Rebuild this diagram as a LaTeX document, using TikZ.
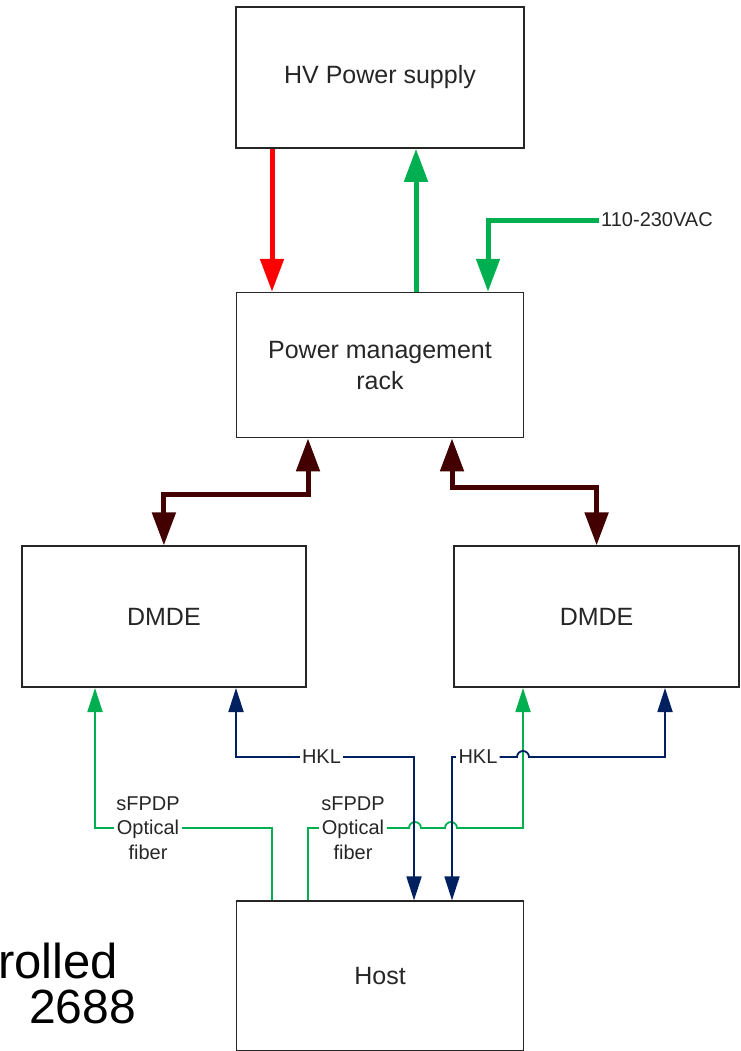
\documentclass[tikz,border=0pt]{standalone}
\usepackage{fontspec}
\setmainfont{Liberation Sans}
\usepackage{tikz}
\usetikzlibrary{arrows.meta,positioning,calc}
\definecolor{pgreen}{RGB}{0,176,80}
\definecolor{pred}{RGB}{255,0,0}
\definecolor{pbrown}{RGB}{66,0,0}
\definecolor{pblue}{RGB}{0,32,96}

\begin{document}
\begin{tikzpicture}[
  x=1pt,y=-1pt,
  font=\fontsize{25}{31}\selectfont,
  box/.style={draw=black!85,line width=1.6pt,minimum width=287pt,
              minimum height=143pt,inner sep=0pt,align=center,text=black!85},
  lbl/.style={font=\fontsize{20}{24.5}\selectfont,inner sep=2pt,align=center,text=black!85},
  big/.style={font=\fontsize{49}{49}\selectfont,inner sep=0pt,anchor=base west},
  pw/.style={line width=5pt,-{Triangle[length=33pt,width=23pt]}},
  bus/.style={line width=5pt,color=pbrown,
              {Triangle[length=33pt,width=23pt]}-{Triangle[length=33pt,width=23pt]}},
  sig/.style={line width=1.8pt},
  ar/.style={-{Triangle[length=24pt,width=15pt]}},
  ra/.style={{Triangle[length=24pt,width=15pt]}-}]

\useasboundingbox (0,0) rectangle (740,1051);

\node[box,minimum width=288pt,minimum height=141pt] (hv) at (380,77.5) {HV Power supply};
\node[box,minimum height=145pt,below=143pt of hv] (pmr) {Power management\\rack};
\node[box,minimum width=284pt,minimum height=141pt,below left=107pt and -71pt of pmr] (dmdeL) {DMDE};
\node[box,minimum width=285pt,minimum height=141pt,below right=107pt and -71pt of pmr] (dmdeR) {DMDE};
\node[box,minimum height=150pt,below=462pt of pmr] (host) {Host};

\node[lbl,anchor=west] (ac) at (599,220) {110-230VAC};
\node[lbl] (fibL) at (148,828) {sFPDP\\Optical\\fiber};
\node[lbl] (fibR) at (353,828) {sFPDP\\Optical\\fiber};
\node[lbl] (hklL) at (321.5,757) {HKL};
\node[lbl] (hklR) at (478,757) {HKL};

\node[big] (ctl) at (-2,978) {rolled};
\node[big,font=\fontsize{48}{48}\selectfont] (num) at (29,1023) {2688};

% power
\draw[pw,pred] (hv.south -| 272,0) -- (pmr.north -| 272,0);
\draw[pw,pgreen] (pmr.north -| 416,0) -- (hv.south -| 416,0);
\draw[pw,pgreen] (ac.west) -| (pmr.north -| 488,0);
\draw[bus] (pmr.south -| 308,0) -- ++(0,56) -| (dmdeL.north);
\draw[bus] (pmr.south -| 452,0) -- ++(0,49) -| (dmdeR.north);

% fibre links
\draw[sig,pgreen,ra] (dmdeL.south -| 95,0) |- (fibL.west);
\draw[sig,pgreen] (fibL.east) -| (host.north -| 272,0);
\draw[sig,pgreen] (host.north -| 308,0) |- (fibR.west);
\draw[sig,pgreen,ar] (fibR.east) -- (409,828) arc[start angle=180,end angle=0,radius=6pt]
  -- (445,828) arc[start angle=180,end angle=0,radius=6pt] -| (dmdeR.south -| 523,0);

% HKL
\draw[sig,pblue,ra] (dmdeL.south -| 236,0) |- (hklL.west);
\draw[sig,pblue,ar] (hklL.east) -| (host.north -| 414,0);
\draw[sig,pblue,ar] (hklR.west) -| (host.north -| 452,0);
\draw[sig,pblue,ar] (hklR.east) -- (517,757) arc[start angle=180,end angle=0,radius=6pt]
  -| (dmdeR.south -| 665,0);
\end{tikzpicture}
\end{document}
